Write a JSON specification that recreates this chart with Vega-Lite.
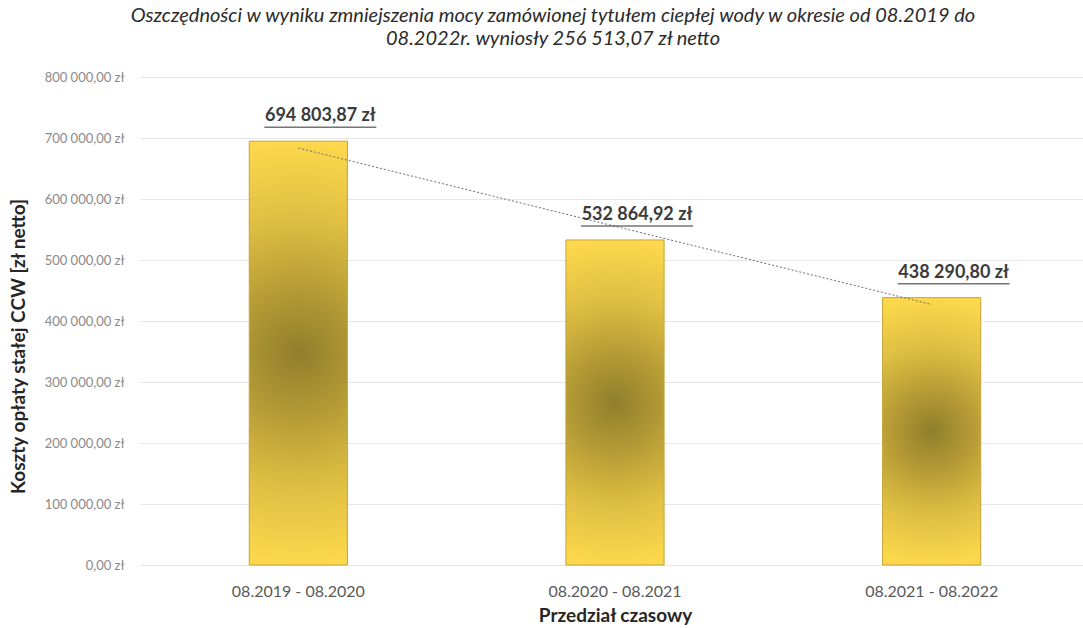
{
  "$schema": "https://vega.github.io/schema/vega-lite/v6.json",
  "autosize": {"type": "none"},
  "padding": {"left": 140, "top": 77, "right": 0, "bottom": 63},
  "width": 950,
  "height": 488,
  "background": "white",
  "config": {
    "locale": {"number": {"decimal": ",", "thousands": " ", "grouping": [3], "currency": ["", " zł"]}},
    "font": "Lato",
    "view": {"stroke": null}
  },
  "title": {
    "text": ["Oszczędności w wyniku zmniejszenia mocy zamówionej tytułem ciepłej wody w okresie od 08.2019 do", "08.2022r. wyniosły 256 513,07 zł netto"],
    "fontSize": 20,
    "fontStyle": "italic",
    "fontWeight": "normal",
    "color": "#2b2b2b",
    "lineHeight": 23,
    "anchor": "middle",
    "dx": -62,
    "offset": 22
  },
  "data": {
    "values": [
      {"okres": "08.2019 - 08.2020", "koszt": 694803.87, "trend": 683576},
      {"okres": "08.2020 - 08.2021", "koszt": 532864.92, "trend": 555320},
      {"okres": "08.2021 - 08.2022", "koszt": 438290.80, "trend": 427063}
    ]
  },
  "encoding": {
    "x": {
      "field": "okres", "type": "nominal", "sort": null,
      "scale": {"paddingInner": 0.69, "paddingOuter": 0.345},
      "axis": {
        "title": "Przedział czasowy",
        "titleFontSize": 19, "titleFontWeight": "bold", "titleColor": "#262626",
        "titleY": 50, "titleBaseline": "middle",
        "labelAngle": 0, "labelFontSize": 16, "labelColor": "#595959", "labelPadding": 18,
        "ticks": false, "domain": false, "grid": false
      }
    }
  },
  "layer": [
    {
      "mark": {
        "type": "bar",
        "stroke": "#c4a43a",
        "strokeWidth": 1,
        "color": {
          "gradient": "radial",
          "x1": 0.5, "y1": 0.5, "r1": 0,
          "x2": 0.5, "y2": 0.5, "r2": 0.5,
          "stops": [
            {"offset": 0, "color": "#8f7e2c"},
            {"offset": 0.3, "color": "#b59b35"},
            {"offset": 0.65, "color": "#e0c043"},
            {"offset": 1, "color": "#fdd84c"}
          ]
        }
      },
      "encoding": {
        "y": {
          "field": "koszt", "type": "quantitative",
          "scale": {"domain": [0, 800000]},
          "axis": {
            "title": "Koszty opłaty stałej CCW [zł netto]",
            "titleFontSize": 19, "titleFontWeight": "bold", "titleColor": "#262626",
            "titleAngle": -90, "titleX": -122, "titleY": 269, "titleAlign": "center", "titleBaseline": "middle",
            "format": "$,.2f", "values": [0, 100000, 200000, 300000, 400000, 500000, 600000, 700000, 800000],
            "labelOverlap": false,
            "labelFontSize": 13, "labelColor": "#8a8a8a", "labelPadding": 16,
            "ticks": false, "domain": false, "grid": true, "gridColor": "#e6e6e6"
          }
        }
      }
    },
    {
      "mark": {"type": "line", "color": "#6e6e6e", "strokeWidth": 1, "strokeDash": [2, 2]},
      "encoding": {"y": {"field": "trend", "type": "quantitative"}}
    },
    {
      "mark": {"type": "text", "fontSize": 18, "fontWeight": "bold", "color": "#3b3b3b", "dx": 22, "dy": -25, "baseline": "middle"},
      "encoding": {
        "y": {"field": "koszt", "type": "quantitative"},
        "text": {"field": "koszt", "type": "quantitative", "format": "$,.2f"}
      }
    },
    {
      "mark": {"type": "tick", "orient": "horizontal", "size": 112, "thickness": 1.5, "color": "#3b3b3b", "xOffset": 22, "yOffset": -14},
      "encoding": {"y": {"field": "koszt", "type": "quantitative"}}
    }
  ]
}
